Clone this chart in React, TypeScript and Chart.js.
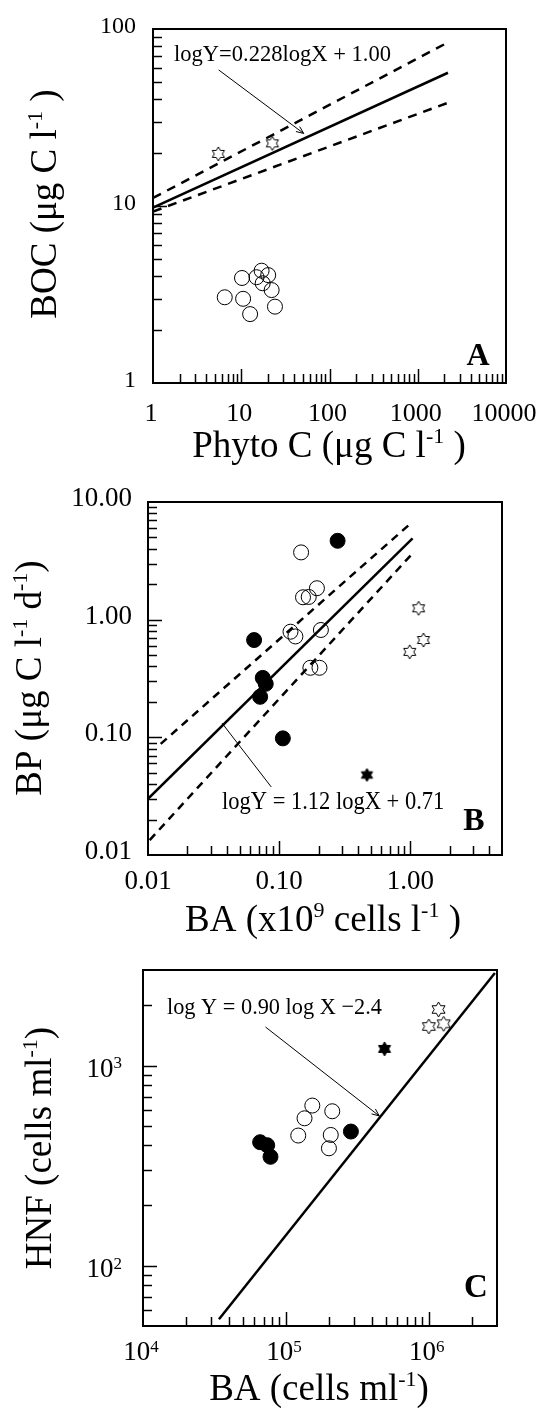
import React, { useEffect, useRef } from "react";
import { Chart, registerables } from "chart.js";

Chart.register(...registerables);

const FONT = '"Liberation Serif", "Times New Roman", Times, serif';

// ===== Panel A : BOC vs Phyto C =====
const aOpenCircleX = [6.5, 10.5, 12.6, 10.2, 17.0, 20.2, 14.9, 17.5, 22.1, 24.1];
const aOpenCircleY = [3.05, 2.99, 2.45, 3.92, 4.31, 4.07, 3.96, 3.66, 3.35, 2.7];
const aOpenStarX = [5.5, 22.5];
const aOpenStarY = [19.7, 22.6];
const aFitX = [1, 2200];
const aFitY = [9.8, 56.6];
const aUpperX = [1, 2200];
const aUpperY = [11.1, 84];
const aLowerX = [1, 2200];
const aLowerY = [9.3, 38.3];
const aPointerX = [5.55, 51];
const aPointerY = [58.7, 25.7];
const aXTickValues = [1, 10, 100, 1000, 10000];
const aXTickLabels = ["1", "10", "100", "1000", "10000"];
const aYTickValues = [1, 10, 100];
const aYTickLabels = ["1", "10", "100"];
const aXTitle = "Phyto C (μg C l^{-1} )";
const aYTitle = "BOC (μg C l^{-1} )";
const aEquation = "logY=0.228logX + 1.00";
const aLetter = "A";

// ===== Panel B : BP vs BA =====
const bFilledCircleX = [0.279, 0.0644, 0.075, 0.079, 0.0716, 0.1067];
const bFilledCircleY = [4.68, 0.671, 0.32, 0.285, 0.221, 0.098];
const bOpenCircleX = [0.147, 0.152, 0.168, 0.194, 0.122, 0.133, 0.208, 0.173, 0.203];
const bOpenCircleY = [3.73, 1.55, 1.56, 1.85, 0.79, 0.72, 0.817, 0.39, 0.39];
const bFilledStarX = [0.467];
const bFilledStarY = [0.0479];
const bOpenStarX = [1.156, 1.26, 0.99];
const bOpenStarY = [1.25, 0.671, 0.533];
const bFitX = [0.01, 1.04];
const bFitY = [0.03, 4.91];
const bUpperX = [0.0125, 1.04];
const bUpperY = [0.088, 6.8];
const bLowerX = [0.0103, 1.04];
const bLowerY = [0.0134, 3.66];
const bPointerX = [0.0367, 0.087];
const bPointerY = [0.132, 0.0379];
const bXTickValues = [0.01, 0.1, 1];
const bXTickLabels = ["0.01", "0.10", "1.00"];
const bYTickValues = [0.01, 0.1, 1, 10];
const bYTickLabels = ["0.01", "0.10", "1.00", "10.00"];
const bXTitle = "BA (x10^{9} cells l^{-1} )";
const bYTitle = "BP (μg C l^{-1} d^{-1})";
const bEquation = "logY = 1.12 logX + 0.71";
const bLetter = "B";

// ===== Panel C : HNF vs BA =====
const cOpenCircleX = [153000, 135000, 211000, 122000, 206000, 200000];
const cOpenCircleY = [631, 545, 591, 447, 450, 386];
const cFilledCircleX = [285000, 66000, 74000, 78000];
const cFilledCircleY = [468, 414, 400, 350];
const cFilledStarX = [490000];
const cFilledStarY = [1211];
const cOpenStarX = [1170000, 1000000, 1270000];
const cOpenStarY = [1905, 1567, 1616];
const cFitX = [34000, 2900000];
const cFitY = [54, 2900];
const cPointerX = [72000, 450000];
const cPointerY = [1557, 560];
const cXTickValues = [10000, 100000, 1000000];
const cXTickLabels = ["10^{4}", "10^{5}", "10^{6}"];
const cYTickValues = [100, 1000];
const cYTickLabels = ["10^{2}", "10^{3}"];
const cXTitle = "BA (cells ml^{-1})";
const cYTitle = "HNF (cells ml^{-1})";
const cEquation = "log Y = 0.90 log X −2.4";
const cLetter = "C";

// ---------- helpers ----------
const PAGE_W = 544;
const PAGE_H = 1408;
const pts = (xs: number[], ys: number[]) => xs.map((x, i) => ({ x, y: ys[i] }));

type Seg = { t: string; sup: boolean };
function parseRich(s: string): Seg[] {
  const out: Seg[] = [];
  const re = /\^\{([^}]*)\}/g;
  let last = 0;
  let m: RegExpExecArray | null;
  while ((m = re.exec(s))) {
    if (m.index > last) out.push({ t: s.slice(last, m.index), sup: false });
    out.push({ t: m[1], sup: true });
    last = re.lastIndex;
  }
  if (last < s.length) out.push({ t: s.slice(last), sup: false });
  return out;
}

function drawRich(
  ctx: CanvasRenderingContext2D,
  s: string,
  x: number,
  y: number,
  size: number,
  align: "left" | "center" | "right",
  supRatio = 0.6,
  supRaise = 0.38,
  weight = "normal",
  sx = 1
) {
  const segs = parseRich(s);
  const mainFont = `${weight} ${size}px ${FONT}`;
  const supFont = `${weight} ${Math.round(size * supRatio)}px ${FONT}`;
  let w = 0;
  for (const sg of segs) {
    ctx.font = sg.sup ? supFont : mainFont;
    w += ctx.measureText(sg.t).width;
  }
  const sw = w * sx;
  const x0 = align === "left" ? x : align === "center" ? x - sw / 2 : x - sw;
  ctx.save();
  ctx.translate(x0, y);
  ctx.scale(sx, 1);
  ctx.textAlign = "left";
  ctx.textBaseline = "alphabetic";
  let cx = 0;
  for (const sg of segs) {
    ctx.font = sg.sup ? supFont : mainFont;
    ctx.fillText(sg.t, cx, sg.sup ? -size * supRaise : 0);
    cx += ctx.measureText(sg.t).width;
  }
  ctx.restore();
}

function makeStar(r: number, filled: boolean): HTMLCanvasElement {
  const pad = 2;
  const s = Math.ceil(2 * r + 2 * pad);
  const c = document.createElement("canvas");
  c.width = s;
  c.height = s;
  const g = c.getContext("2d")!;
  g.beginPath();
  for (let i = 0; i < 12; i++) {
    const ang = -Math.PI / 2 + (i * Math.PI) / 6;
    const rr = i % 2 === 0 ? r : r / Math.sqrt(3);
    const px = s / 2 + rr * Math.cos(ang);
    const py = s / 2 + rr * Math.sin(ang);
    if (i === 0) g.moveTo(px, py);
    else g.lineTo(px, py);
  }
  g.closePath();
  g.fillStyle = filled ? "#000" : "#fff";
  g.fill();
  g.strokeStyle = "#000";
  g.lineWidth = 1;
  g.stroke();
  return c;
}

interface PanelSpec {
  key: string;
  box: { left: number; top: number; right: number; bottom: number };
  xMin: number;
  xMax: number;
  yMin: number;
  yMax: number;
  xTickValues: number[];
  xTickLabels: string[];
  yTickValues: number[];
  yTickLabels: string[];
  xTickSize: number;
  yTickSize: number;
  tickSupRatio: number;
  tickSupRaise: number;
  xLabelBase: number;
  xLabelDx: number;
  yLabelRight: number;
  yLabelDy: number;
  xTitle: string;
  xTitleX: number;
  xTitleBase: number;
  yTitle: string;
  yTitleBase: number;
  yTitleCenter: number;
  equation: string;
  eqX: number;
  eqBase: number;
  eqSize: number;
  eqSx: number;
  letter: string;
  letterX: number;
  letterBase: number;
  letterSize: number;
  pointerX: number[];
  pointerY: number[];
  arrow: boolean;
  buildDatasets: () => any[];
}

function drawLogTicks(
  ctx: CanvasRenderingContext2D,
  scale: any,
  a: any,
  axis: "x" | "y",
  min: number,
  max: number
) {
  const d0 = Math.floor(Math.log10(min));
  const d1 = Math.ceil(Math.log10(max));
  for (let d = d0; d <= d1; d++) {
    for (let m = 1; m <= 9; m++) {
      const v = m * Math.pow(10, d);
      if (v < min * 1.001 || v > max * 0.999) continue;
      const p = Math.round(scale.getPixelForValue(v)) + 0.5;
      const len = m === 1 ? 14 : 9;
      ctx.beginPath();
      if (axis === "x") {
        ctx.moveTo(p, a.bottom);
        ctx.lineTo(p, a.bottom - len);
      } else {
        ctx.moveTo(a.left, p);
        ctx.lineTo(a.left + len, p);
      }
      ctx.stroke();
    }
  }
}

function framePlugin(p: PanelSpec) {
  return {
    id: "frame" + p.key,
    afterDraw(chart: any) {
      const ctx: CanvasRenderingContext2D = chart.ctx;
      const a = chart.chartArea;
      const xs = chart.scales.x;
      const ys = chart.scales.y;
      ctx.save();
      ctx.strokeStyle = "#000";
      ctx.fillStyle = "#000";
      ctx.lineWidth = 2;
      ctx.strokeRect(a.left, a.top, a.right - a.left, a.bottom - a.top);
      ctx.lineWidth = 1.5;
      drawLogTicks(ctx, xs, a, "x", p.xMin, p.xMax);
      drawLogTicks(ctx, ys, a, "y", p.yMin, p.yMax);
      // small arrow head at the end of the pointer line
      if (p.arrow) {
        const n = p.pointerX.length;
        const x1 = xs.getPixelForValue(p.pointerX[n - 2]);
        const y1 = ys.getPixelForValue(p.pointerY[n - 2]);
        const x2 = xs.getPixelForValue(p.pointerX[n - 1]);
        const y2 = ys.getPixelForValue(p.pointerY[n - 1]);
        const ang = Math.atan2(y2 - y1, x2 - x1);
        ctx.lineWidth = 1;
        ctx.beginPath();
        ctx.moveTo(x2 - 8 * Math.cos(ang - 0.4), y2 - 8 * Math.sin(ang - 0.4));
        ctx.lineTo(x2, y2);
        ctx.lineTo(x2 - 8 * Math.cos(ang + 0.4), y2 - 8 * Math.sin(ang + 0.4));
        ctx.stroke();
      }
      p.xTickValues.forEach((v, i) =>
        drawRich(ctx, p.xTickLabels[i], xs.getPixelForValue(v) + p.xLabelDx, p.xLabelBase, p.xTickSize, "center", p.tickSupRatio, p.tickSupRaise)
      );
      p.yTickValues.forEach((v, i) =>
        drawRich(ctx, p.yTickLabels[i], p.yLabelRight, ys.getPixelForValue(v) + p.yLabelDy, p.yTickSize, "right", p.tickSupRatio, p.tickSupRaise)
      );
      drawRich(ctx, p.xTitle, p.xTitleX, p.xTitleBase, 37, "center", 0.6, 0.38);
      ctx.save();
      ctx.translate(p.yTitleBase, p.yTitleCenter);
      ctx.rotate(-Math.PI / 2);
      drawRich(ctx, p.yTitle, 0, 0, 37, "center", 0.6, 0.38);
      ctx.restore();
      drawRich(ctx, p.equation, p.eqX, p.eqBase, p.eqSize, "left", 0.6, 0.38, "normal", p.eqSx);
      drawRich(ctx, p.letter, p.letterX, p.letterBase, p.letterSize, "center", 0.6, 0.38, "bold");
      ctx.restore();
    },
  };
}

const openCircles = (data: any[]) => ({
  data,
  showLine: false,
  pointStyle: "circle",
  pointRadius: 7.5,
  pointBorderWidth: 1,
  pointBorderColor: "#000",
  pointBackgroundColor: "rgba(0,0,0,0)",
});
const filledCircles = (data: any[]) => ({
  data,
  showLine: false,
  pointStyle: "circle",
  pointRadius: 7.5,
  pointBorderWidth: 1,
  pointBorderColor: "#000",
  pointBackgroundColor: "#000",
});
const stars = (data: any[], img: HTMLCanvasElement) => ({
  data,
  showLine: false,
  pointStyle: img,
  pointRadius: 7,
});
const line = (data: any[], width: number, dash: number[] = []) => ({
  data,
  showLine: true,
  pointRadius: 0,
  borderColor: "#000",
  borderWidth: width,
  borderDash: dash,
  fill: false,
  tension: 0,
});

const panels: PanelSpec[] = [
  {
    key: "A",
    box: { left: 153, top: 29, right: 506, bottom: 383 },
    xMin: 1,
    xMax: 10000,
    yMin: 1,
    yMax: 100,
    xTickValues: aXTickValues,
    xTickLabels: aXTickLabels,
    yTickValues: aYTickValues,
    yTickLabels: aYTickLabels,
    xTickSize: 26,
    yTickSize: 24,
    tickSupRatio: 0.63,
    tickSupRaise: 0.3,
    xLabelBase: 421,
    xLabelDx: -2,
    yLabelRight: 136,
    yLabelDy: 4,
    xTitle: aXTitle,
    xTitleX: 329,
    xTitleBase: 457,
    yTitle: aYTitle,
    yTitleBase: 56,
    yTitleCenter: 204,
    equation: aEquation,
    eqX: 174,
    eqBase: 61,
    eqSize: 23,
    eqSx: 0.98,
    letter: aLetter,
    letterX: 478,
    letterBase: 365,
    letterSize: 32,
    pointerX: aPointerX,
    pointerY: aPointerY,
    arrow: true,
    buildDatasets: () => [
      openCircles(pts(aOpenCircleX, aOpenCircleY)),
      stars(pts(aOpenStarX, aOpenStarY), makeStar(7, false)),
      line(pts(aFitX, aFitY), 2.5),
      line(pts(aUpperX, aUpperY), 2.5, [9, 7]),
      line(pts(aLowerX, aLowerY), 2.5, [9, 7]),
      line(pts(aPointerX, aPointerY), 1),
    ],
  },
  {
    key: "B",
    box: { left: 148, top: 502, right: 502, bottom: 855 },
    xMin: 0.01,
    xMax: 5,
    yMin: 0.01,
    yMax: 10,
    xTickValues: bXTickValues,
    xTickLabels: bXTickLabels,
    yTickValues: bYTickValues,
    yTickLabels: bYTickLabels,
    xTickSize: 27,
    yTickSize: 27,
    tickSupRatio: 0.63,
    tickSupRaise: 0.3,
    xLabelBase: 889,
    xLabelDx: 0,
    yLabelRight: 132,
    yLabelDy: 4,
    xTitle: bXTitle,
    xTitleX: 323,
    xTitleBase: 931,
    yTitle: bYTitle,
    yTitleBase: 41,
    yTitleCenter: 678,
    equation: bEquation,
    eqX: 222,
    eqBase: 809,
    eqSize: 25,
    eqSx: 0.9,
    letter: bLetter,
    letterX: 474,
    letterBase: 830,
    letterSize: 32,
    pointerX: bPointerX,
    pointerY: bPointerY,
    arrow: false,
    buildDatasets: () => [
      filledCircles(pts(bFilledCircleX, bFilledCircleY)),
      openCircles(pts(bOpenCircleX, bOpenCircleY)),
      stars(pts(bFilledStarX, bFilledStarY), makeStar(6.5, true)),
      stars(pts(bOpenStarX, bOpenStarY), makeStar(7, false)),
      line(pts(bFitX, bFitY), 2.5),
      line(pts(bUpperX, bUpperY), 2.5, [8, 6]),
      line(pts(bLowerX, bLowerY), 2.5, [8, 6]),
      line(pts(bPointerX, bPointerY), 1),
    ],
  },
  {
    key: "C",
    box: { left: 143, top: 970, right: 497, bottom: 1326 },
    xMin: 10000,
    xMax: 3000000,
    yMin: 50,
    yMax: 3000,
    xTickValues: cXTickValues,
    xTickLabels: cXTickLabels,
    yTickValues: cYTickValues,
    yTickLabels: cYTickLabels,
    xTickSize: 27,
    yTickSize: 27,
    tickSupRatio: 0.63,
    tickSupRaise: 0.3,
    xLabelBase: 1360,
    xLabelDx: -2,
    yLabelRight: 122,
    yLabelDy: 11,
    xTitle: cXTitle,
    xTitleX: 319,
    xTitleBase: 1400,
    yTitle: cYTitle,
    yTitleBase: 51,
    yTitleCenter: 1148,
    equation: cEquation,
    eqX: 167,
    eqBase: 1014,
    eqSize: 24,
    eqSx: 0.93,
    letter: cLetter,
    letterX: 476,
    letterBase: 1297,
    letterSize: 33,
    pointerX: cPointerX,
    pointerY: cPointerY,
    arrow: true,
    buildDatasets: () => [
      filledCircles(pts(cFilledCircleX, cFilledCircleY)),
      openCircles(pts(cOpenCircleX, cOpenCircleY)),
      stars(pts(cFilledStarX, cFilledStarY), makeStar(7, true)),
      stars(pts(cOpenStarX, cOpenStarY), makeStar(7.5, false)),
      line(pts(cFitX, cFitY), 2.5),
      line(pts(cPointerX, cPointerY), 1),
    ],
  },
];

function Panel({ spec }: { spec: PanelSpec }) {
  const ref = useRef<HTMLCanvasElement>(null);
  useEffect(() => {
    const canvas = ref.current!;
    const b = spec.box;
    const chart = new Chart(canvas, {
      type: "scatter",
      data: { datasets: spec.buildDatasets() },
      options: {
        responsive: false,
        animation: false,
        devicePixelRatio: 1,
        events: [],
        layout: {
          padding: { left: b.left, top: b.top, right: PAGE_W - b.right, bottom: PAGE_H - b.bottom },
        },
        plugins: { legend: { display: false }, tooltip: { enabled: false } },
        scales: {
          x: { type: "logarithmic", min: spec.xMin, max: spec.xMax, display: false },
          y: { type: "logarithmic", min: spec.yMin, max: spec.yMax, display: false },
        },
      } as any,
      plugins: [framePlugin(spec)],
    } as any);
    return () => chart.destroy();
  }, [spec]);
  return (
    <canvas
      ref={ref}
      width={PAGE_W}
      height={PAGE_H}
      style={{ position: "absolute", left: 0, top: 0, width: PAGE_W, height: PAGE_H }}
    />
  );
}

export default function App() {
  return (
    <div style={{ position: "absolute", left: 0, top: 0, width: PAGE_W, height: PAGE_H, background: "#fff", overflow: "hidden" }}>
      {panels.map((p) => (
        <Panel key={p.key} spec={p} />
      ))}
    </div>
  );
}
